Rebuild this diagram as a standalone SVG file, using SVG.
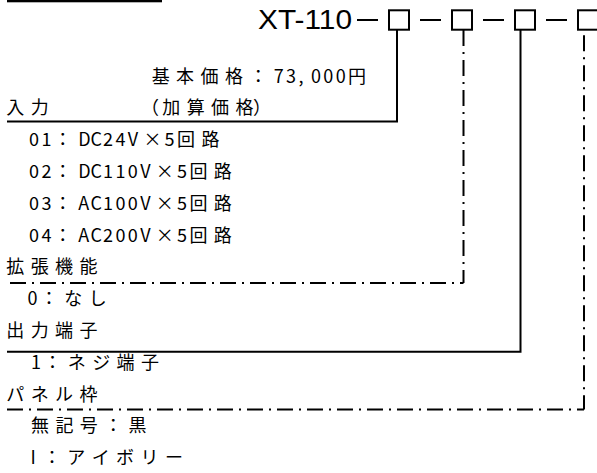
<svg xmlns="http://www.w3.org/2000/svg" width="597" height="473" viewBox="0 0 597 473">
<style>
.t{font-family:"Noto Sans CJK JP","Noto Sans CJK SC",sans-serif;font-size:18px;fill:#000}
.title{font-family:"Liberation Sans",Arial,sans-serif;font-size:28px;fill:#000}
.box{fill:none;stroke:#000;stroke-width:2}
.bar{stroke:#000;stroke-width:2}
.solid{fill:none;stroke:#000;stroke-width:2}
.dd{fill:none;stroke:#000;stroke-width:2;stroke-dasharray:16 6 2 6}
</style>
<rect x="7" y="0" width="155" height="2.3" fill="#000"/>
<g id="model">
<text class="title" x="258" y="29" textLength="94" lengthAdjust="spacingAndGlyphs">XT-110</text>
<line class="bar" x1="357" y1="20" x2="378" y2="20"/>
<line class="bar" x1="420" y1="20" x2="441" y2="20"/>
<line class="bar" x1="483" y1="20" x2="504" y2="20"/>
<line class="bar" x1="546" y1="20" x2="567" y2="20"/>
</g>
<g id="slot-input"><rect class="box" x="389" y="10.3" width="20" height="19.4"/></g>
<g id="slot-extension"><rect class="box" x="452" y="10.3" width="20" height="19.4"/></g>
<g id="slot-output"><rect class="box" x="515" y="10.3" width="20" height="19.4"/></g>
<g id="slot-panel"><rect class="box" x="578" y="10.3" width="20" height="19.4"/></g>
<g id="price">
<text class="t" y="82.6" x="151.7 176.1 200.5 224.9 249.3 273.7 286.1 298.5 310.9 323.3 335.7 348.1">基本価格：73,000円</text>
<text class="t" y="114.4" x="141 162.3 186.7 211.1 235.5 253">（加算価格）</text>
</g>
<g id="input">
<text class="t" y="114.4" x="6.3 30.7">入力</text>
<text class="t" y="146.2" x="29 41.4 53.8 78.2 90.6 103 115.4 127.8 143.4 164.6 177 201.4">01：DC24V×5回路</text>
<text class="t" y="178" x="29 41.4 53.8 78.2 90.6 103 115.4 127.8 140.2 155.8 177 189.4 213.8">02：DC110V×5回路</text>
<text class="t" y="209.8" x="29 41.4 53.8 78.2 90.6 103 115.4 127.8 140.2 155.8 177 189.4 213.8">03：AC100V×5回路</text>
<text class="t" y="241.6" x="29 41.4 53.8 78.2 90.6 103 115.4 127.8 140.2 155.8 177 189.4 213.8">04：AC200V×5回路</text>
</g>
<g id="extension">
<text class="t" y="273.4" x="6.3 30.7 55.1 79.5">拡張機能</text>
<text class="t" y="305.2" x="27.5 39.9 64.3 88.7">0：なし</text>
</g>
<g id="output">
<text class="t" y="337" x="6.3 30.7 55.1 79.5">出力端子</text>
<text class="t" y="368.8" x="31 43.4 67.8 92.2 116.6 141">1：ネジ端子</text>
</g>
<g id="panel">
<text class="t" y="400.6" x="6.3 30.7 55.1 79.5">パネル枠</text>
<text class="t" y="432.4" x="31 55.4 79.8 104.2 128.6">無記号：黒</text>
<text class="t" y="464.2" x="30.5 42.9 67.3 91.7 116.1 140.5 164.9">I：アイボリー</text>
</g>
<g id="connectors">
<polyline class="solid" points="7,121.5 397,121.5 397,30"/>
<path class="dd" d="M463.5,30 V283"/>
<path class="dd" style="stroke-dashoffset:12.5" d="M463.5,283 H7"/>
<polyline class="solid" points="7,351.7 520.5,351.7 520.5,30"/>
<path class="dd" style="stroke-dashoffset:24.7" d="M584,30 V409.5"/>
<path class="dd" style="stroke-dashoffset:9" d="M584,409.5 H7"/>
</g>
</svg>
